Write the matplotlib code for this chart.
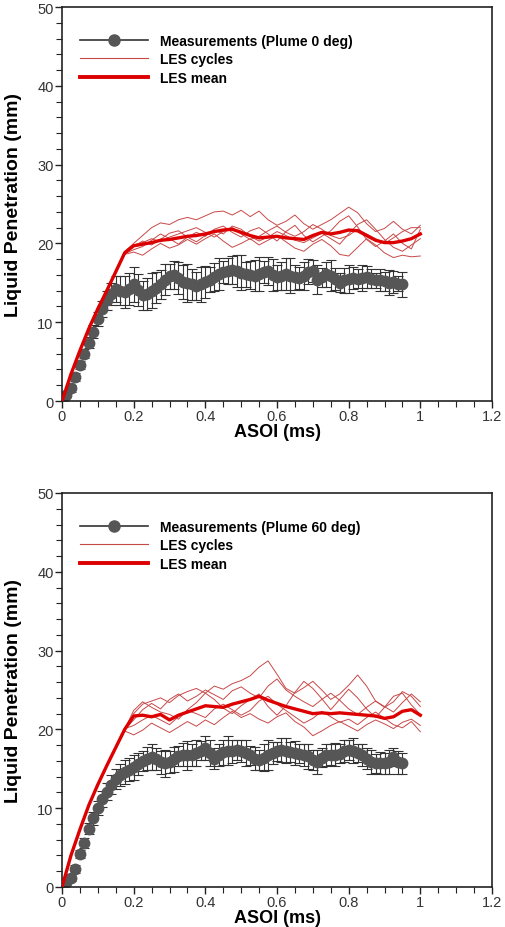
import numpy as np
import matplotlib
matplotlib.use("Agg")
import matplotlib.pyplot as plt
from matplotlib.lines import Line2D
from matplotlib.ticker import MultipleLocator, FormatStrFormatter

plt.rcParams["font.family"] = ["Liberation Sans", "DejaVu Sans"]

# measurement sampling times (ms) and LES output times (ms)
t_meas = np.arange(77) * 0.0125
t_les = np.arange(41) * 0.025

# ---- plume 0 deg ----
meas_0 = [0, 0.8, 1.6, 3.0, 4.6, 6.0, 7.4, 8.8, 10.4, 11.7,
          12.8, 13.6, 14.2, 14.0, 13.8, 14.2, 14.8, 14.1, 13.4, 13.6,
          14.0, 14.4, 14.8, 15.4, 15.8, 16.0, 15.6, 15.1, 15.0, 14.8,
          14.6, 14.8, 15.1, 15.4, 15.7, 16.1, 16.4, 16.5, 16.6, 16.5,
          16.3, 16.1, 16.0, 15.9, 16.1, 16.4, 16.5, 16.0, 15.7, 15.9,
          16.1, 15.9, 15.7, 15.6, 15.9, 16.4, 16.5, 15.4, 15.7, 16.1,
          15.9, 15.5, 15.0, 15.3, 15.5, 15.6, 15.5, 15.6, 15.7, 15.5,
          15.3, 15.3, 15.2, 15.0, 15.1, 14.9, 14.8]
err_0 = [0.2, 0.3, 0.4, 0.5, 0.5, 0.6, 0.7, 0.8, 0.9, 1.0,
         1.2, 1.4, 1.6, 1.8, 2.0, 2.0, 2.2, 2.0, 1.8, 2.0,
         2.2, 2.0, 1.8, 2.0, 1.6, 1.8, 2.0, 2.2, 2.4, 2.0,
         1.8, 2.2, 2.0, 1.6, 1.8, 2.0, 1.4, 1.6, 1.8, 2.0,
         2.2, 1.6, 1.8, 2.0, 2.2, 1.4, 1.8, 2.0, 1.6, 1.8,
         2.0, 2.2, 1.6, 1.4, 1.8, 1.6, 1.4, 1.8, 1.2, 1.6,
         2.0, 1.4, 1.2, 1.6, 1.8, 1.4, 1.2, 1.6, 1.4, 1.2,
         1.0, 1.4, 1.2, 1.6, 1.4, 1.0, 1.6]
mean_0 = [0, 3.4, 6.4, 9.2, 11.7, 14.0, 16.4, 18.8, 19.7, 19.9,
          20.1, 20.4, 20.5, 20.7, 20.9, 21.0, 21.2, 21.5, 21.7, 21.8,
          21.4, 21.0, 20.7, 20.8, 20.9, 20.7, 20.6, 20.5, 21.0, 21.4,
          21.2, 21.4, 21.7, 21.6, 21.0, 20.4, 20.1, 20.1, 20.3, 20.6,
          21.2]
cycles_0 = [
    [0, 3.5, 6.5, 9.3, 11.8, 14.1, 16.5, 19.0, 20.0, 21.0, 22.0, 22.6, 22.4, 23.0,
     23.3, 23.0, 23.5, 24.0, 24.1, 23.6, 24.2, 23.4, 24.1, 23.0, 22.3, 22.8, 23.6,
     22.5, 21.8, 22.4, 23.0, 23.8, 24.6, 23.9, 22.5, 21.5, 21.9, 22.8, 21.8, 21.2, 22.3],
    [0, 3.3, 6.3, 9.1, 11.6, 13.9, 16.3, 18.7, 19.2, 19.6, 20.4, 21.2, 20.6, 19.9,
     20.8, 21.4, 20.9, 21.8, 22.2, 21.4, 20.8, 21.6, 22.0, 21.2, 20.3, 21.5, 22.3,
     21.0, 20.2, 20.9, 21.6, 22.8, 23.5, 22.1, 20.5, 19.6, 20.3, 21.2, 20.0, 19.3, 21.8],
    [0, 3.4, 6.4, 9.2, 11.7, 14.0, 16.3, 18.6, 18.9, 18.5, 19.3, 20.0, 19.4, 19.8,
     20.5, 19.9, 20.6, 21.2, 20.3, 19.5, 20.0, 20.6, 19.8, 20.4, 21.0, 20.2, 19.4,
     19.0, 19.9, 20.5, 19.7, 18.6, 18.4, 19.5, 20.6, 19.8, 18.8, 18.2, 18.5, 18.3, 18.4],
    [0, 3.4, 6.4, 9.2, 11.7, 14.0, 16.4, 18.9, 19.6, 20.3, 19.8, 20.5, 21.3, 21.6,
     20.8, 20.2, 21.0, 21.7, 21.2, 22.2, 21.8, 20.9, 20.3, 20.8, 21.5, 21.0, 20.4,
     20.1, 20.7, 21.3, 20.6, 19.9, 21.2, 22.4, 23.0, 21.8, 20.5, 19.5, 19.0, 19.8, 20.6],
    [0, 3.4, 6.4, 9.2, 11.7, 14.0, 16.4, 18.8, 19.8, 20.1, 20.6, 20.2, 20.8, 21.2,
     21.6, 22.0, 21.4, 20.8, 21.5, 22.0, 21.2, 20.5, 20.9, 21.6, 22.2, 21.4, 20.9,
     21.5, 22.4, 21.8, 21.0, 20.6, 21.0, 21.8, 21.2, 20.6, 20.0, 20.7, 21.5, 22.0, 22.0],
]

# ---- plume 60 deg ----
meas_60 = [0, 0.6, 1.2, 2.3, 4.2, 5.6, 7.4, 8.7, 10.0, 11.2,
           12.1, 13.0, 13.7, 14.2, 14.6, 14.9, 15.2, 15.6, 16.0, 16.3,
           16.5, 16.2, 15.8, 15.7, 15.9, 16.2, 16.6, 16.8, 16.7, 16.7,
           17.0, 17.3, 17.6, 17.0, 16.3, 16.7, 17.1, 17.3, 17.2, 17.4,
           17.3, 17.0, 16.7, 16.3, 16.1, 16.4, 16.8, 17.0, 17.2, 17.4,
           17.3, 17.1, 17.0, 16.9, 16.8, 16.6, 16.1, 15.9, 16.4, 16.8,
           16.8, 16.8, 16.9, 17.2, 17.4, 17.3, 17.0, 16.7, 16.3, 15.9,
           15.7, 15.7, 15.7, 15.9, 16.5, 15.8, 15.7]
err_60 = [0.2, 0.3, 0.4, 0.5, 0.5, 0.6, 0.7, 0.8, 0.9, 1.0,
          1.1, 1.2, 1.3, 1.4, 1.5, 1.5, 1.6, 1.4, 1.3, 1.5,
          1.6, 1.4, 1.5, 1.7, 1.4, 1.6, 1.3, 1.5, 1.8, 1.4,
          1.6, 1.2, 1.5, 1.7, 1.3, 1.4, 1.6, 1.8, 1.5, 1.3,
          1.4, 1.6, 1.2, 1.5, 1.3, 1.7, 1.9, 1.4, 1.2, 1.5,
          1.6, 1.3, 1.5, 1.2, 1.4, 1.6, 1.3, 1.5, 1.2, 1.4,
          1.3, 1.5, 1.2, 1.4, 1.3, 1.6, 1.2, 1.4, 1.3, 1.5,
          1.2, 1.4, 1.3, 1.5, 1.2, 1.4, 1.3]
mean_60 = [0, 4.0, 7.3, 10.4, 13.0, 15.4, 17.7, 20.0, 21.7, 21.8,
           21.6, 21.9, 21.2, 21.8, 22.2, 22.6, 23.0, 22.9, 22.8, 23.2,
           23.5, 23.8, 24.2, 23.7, 23.3, 22.9, 22.6, 22.3, 22.0, 22.1,
           22.0, 22.1, 22.0, 21.9, 21.8, 21.7, 21.4, 21.6, 22.3, 22.5,
           21.8]
cycles_60 = [
    [0, 4.1, 7.4, 10.5, 13.1, 15.5, 17.8, 20.2, 22.0, 23.2, 23.6, 24.0, 23.4, 24.3,
     24.8, 25.2, 24.6, 25.5, 25.1, 25.8, 26.2, 26.8, 27.9, 28.7, 27.0, 25.2, 24.6,
     25.3, 26.1, 25.0, 23.8, 24.5, 25.6, 26.9, 25.5, 23.6, 22.8, 23.5, 24.8, 24.2, 22.9],
    [0, 4.0, 7.3, 10.4, 13.0, 15.4, 17.7, 20.0, 21.2, 22.5, 23.3, 22.6, 23.8, 24.5,
     23.6, 24.2, 25.0, 24.4, 23.8, 24.9, 25.4, 24.6, 24.0, 25.5, 26.4, 25.0, 24.2,
     23.5, 22.9, 23.8, 24.6, 23.7, 22.6, 21.9, 22.8, 23.6, 22.9, 22.2, 23.4, 24.5, 23.5],
    [0, 3.9, 7.2, 10.3, 12.9, 15.3, 17.6, 19.8, 19.3, 19.9, 20.8, 20.2, 19.6, 20.3,
     21.0, 20.4, 21.2, 20.6, 21.5, 22.3, 21.5, 22.0, 21.3, 20.8, 21.6, 22.1, 21.0,
     20.3, 19.2, 19.8, 20.5, 21.0, 20.4, 19.8, 20.6, 21.2, 20.7, 20.1, 20.9, 21.3, 20.5],
    [0, 4.0, 7.3, 10.4, 13.0, 15.4, 17.7, 20.1, 20.5, 21.2, 21.8, 21.2, 20.6, 21.6,
     22.4, 22.0, 21.5, 22.6, 23.2, 22.5, 21.8, 22.4, 23.6, 24.2, 23.2, 22.4, 21.6,
     20.8, 21.4, 22.3, 21.6, 20.9, 21.3, 20.6, 21.5, 22.2, 21.4, 20.6, 20.2, 21.0, 19.7],
    [0, 4.0, 7.3, 10.4, 13.0, 15.4, 17.7, 20.0, 22.4, 23.5, 22.8, 22.2, 21.9, 21.3,
     22.5, 23.4, 24.6, 23.8, 22.7, 22.0, 23.0, 23.8, 24.5, 22.9, 21.8, 23.0, 24.7,
     26.1, 25.2, 23.9, 22.5, 23.8, 25.1, 24.0, 22.6, 21.5, 22.8, 24.2, 24.6, 23.1, 21.9],
]

labels = ["Measurements (Plume 0 deg)", "Measurements (Plume 60 deg)"]

MEAS_COLOR = "#565656"
BAR_COLOR = "#333333"
MEAN_COLOR = "#dd0000"
CYCLE_COLOR = "#c84848"

fig = plt.figure(figsize=(5.05, 9.28), dpi=100)
ax_top = fig.add_axes([62 / 505, 1 - 402 / 928, 430 / 505, 394 / 928])
ax_bot = fig.add_axes([62 / 505, 1 - 888 / 928, 430 / 505, 394 / 928])

panels = [
    (ax_top, meas_0, err_0, mean_0, cycles_0, labels[0]),
    (ax_bot, meas_60, err_60, mean_60, cycles_60, labels[1]),
]

for ax, meas, err, mean, cycles, lab in panels:
    ax.errorbar(t_meas, meas, yerr=err, fmt="o", color=MEAS_COLOR,
                ecolor=BAR_COLOR, elinewidth=0.8, capsize=3.5, capthick=0.8,
                markersize=7.5, zorder=2)
    for cyc in cycles:
        ax.plot(t_les, cyc, color=CYCLE_COLOR, lw=0.7, zorder=3)
    ax.plot(t_les, mean, color=MEAN_COLOR, lw=2.4, zorder=4)

    ax.set_xlim(0, 1.2)
    ax.set_ylim(0, 50)
    ax.xaxis.set_major_locator(MultipleLocator(0.2))
    ax.xaxis.set_minor_locator(MultipleLocator(0.05))
    ax.yaxis.set_major_locator(MultipleLocator(10))
    ax.yaxis.set_minor_locator(MultipleLocator(2))
    ax.xaxis.set_major_formatter(FormatStrFormatter("%g"))
    ax.tick_params(which="major", direction="out", length=5, width=1,
                   labelsize=10.5, pad=1, colors="#222222", labelcolor="#333333")
    ax.tick_params(which="minor", direction="out", length=4, width=0.8,
                   colors="#222222")
    for sp in ax.spines.values():
        sp.set_linewidth(1.2)
        sp.set_color("#222222")

    ax.set_xlabel("ASOI (ms)", fontsize=13, fontweight="bold", labelpad=0)
    ax.set_ylabel("Liquid Penetration (mm)", fontsize=14, fontweight="bold")
    ax.yaxis.set_label_coords(-0.093, 0.5)

    handles = [
        Line2D([], [], color=BAR_COLOR, lw=1.2, marker="o", markersize=8,
               markerfacecolor=MEAS_COLOR, markeredgecolor=MEAS_COLOR),
        Line2D([], [], color=CYCLE_COLOR, lw=0.8),
        Line2D([], [], color=MEAN_COLOR, lw=2.8),
    ]
    leg = ax.legend(handles, [lab, "LES cycles", "LES mean"], loc="upper left",
                    bbox_to_anchor=(0.042, 0.931), frameon=False,
                    handlelength=4.9, handletextpad=0.85, labelspacing=0.3,
                    borderpad=0, borderaxespad=0,
                    prop={"weight": "bold", "size": 10})

fig.savefig("out.png", dpi=100)
